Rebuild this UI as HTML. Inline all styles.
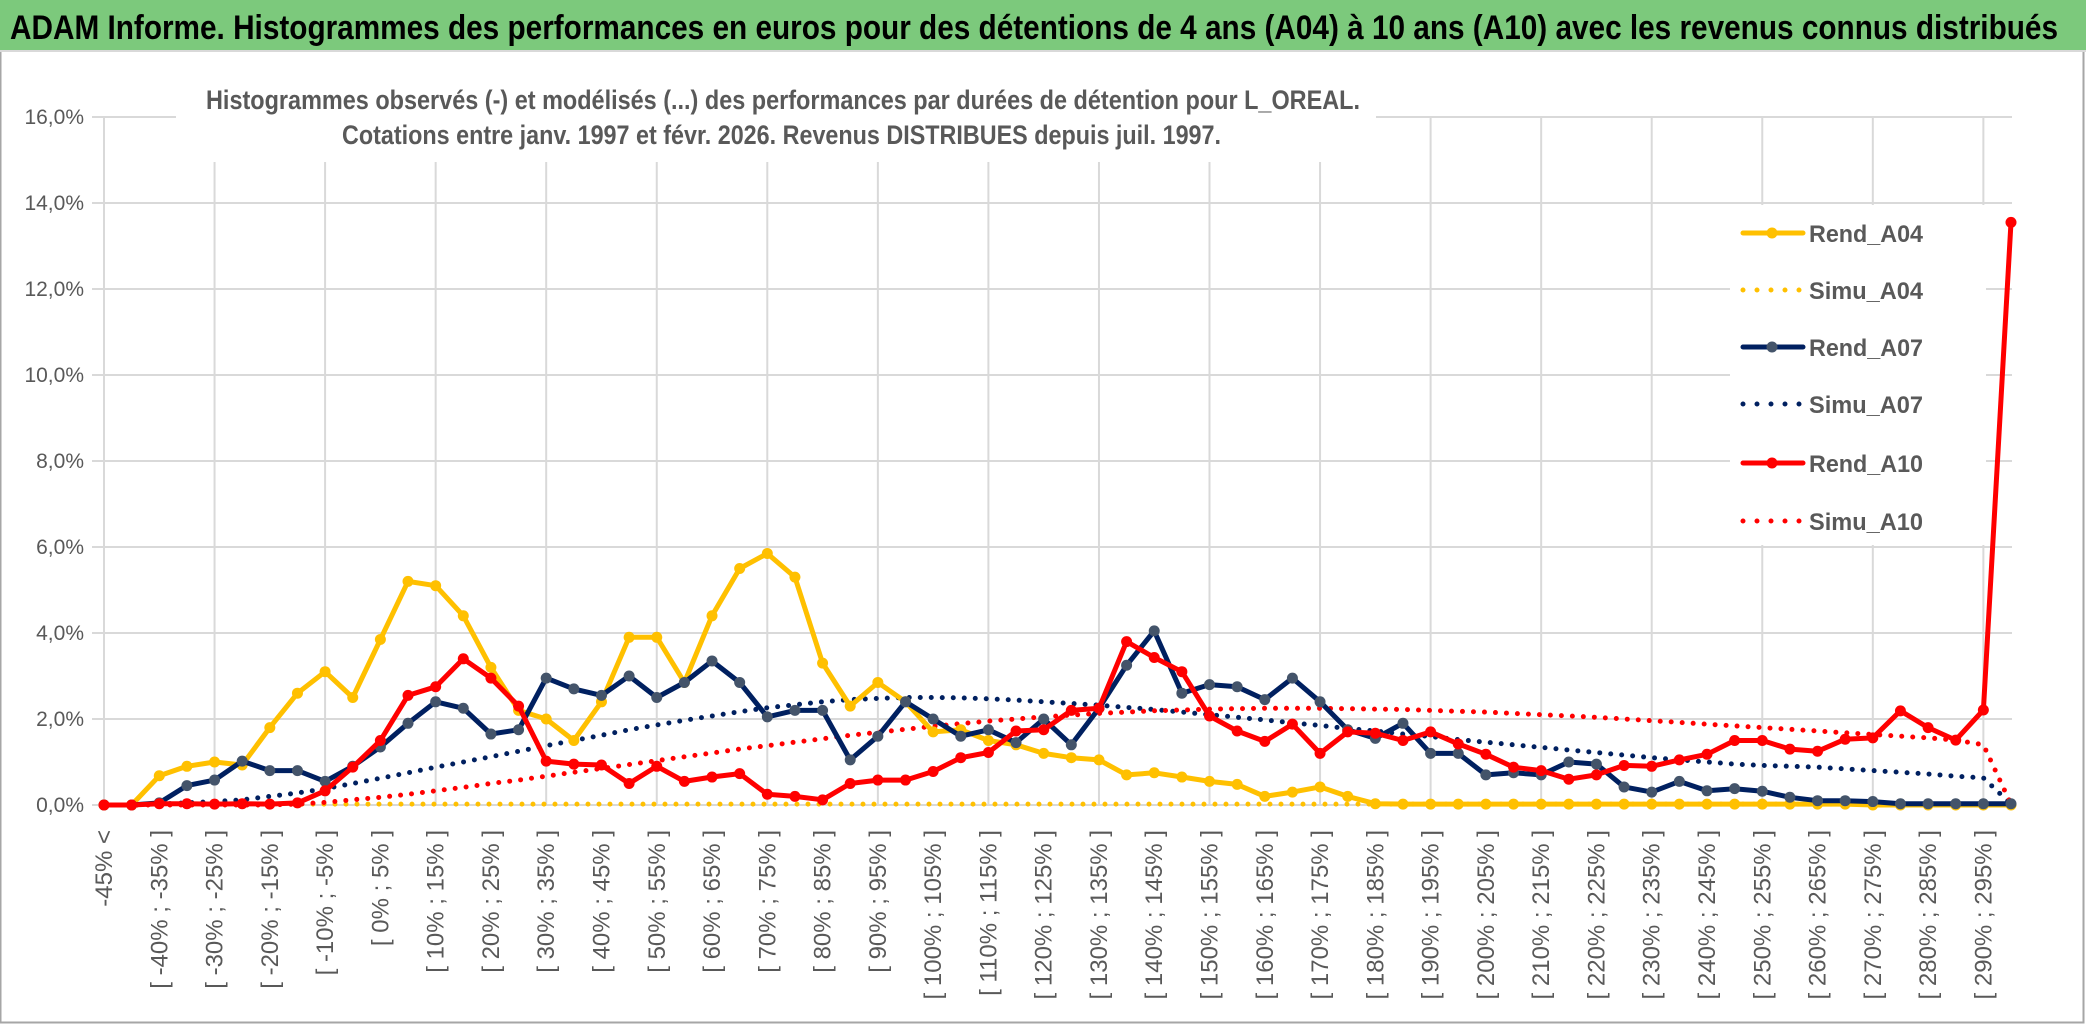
<!DOCTYPE html>
<html><head><meta charset="utf-8"><style>
html,body{margin:0;padding:0;background:#fff;}
svg{display:block;font-family:"Liberation Sans",sans-serif;}
</style></head><body>
<svg id="chart" width="2086" height="1031" viewBox="0 0 2086 1031">
<rect x="0" y="0" width="2086" height="1031" fill="#fff"/>
<rect x="0.5" y="0.5" width="2083" height="1022" fill="none" stroke="#a6a6a6" stroke-width="2"/>
<rect x="0" y="0" width="2086" height="50" fill="#7cc97c"/>
<line x1="0" y1="51" x2="2086" y2="51" stroke="#d9d9d9" stroke-width="2"/>
<text x="10" y="39" font-size="34" font-weight="bold" fill="#000" textLength="2048" lengthAdjust="spacingAndGlyphs">ADAM Informe. Histogrammes des performances en euros pour des détentions de 4 ans (A04) à 10 ans (A10) avec les revenus connus distribués</text>
<g id="grid"></g>
<g id="ylabels"></g>
<g id="xlabels"></g>
<g id="series"></g>
<rect x="176" y="76" width="1200" height="86" fill="#fff"/>
<text x="206" y="109" font-size="27" font-weight="bold" fill="#595959" textLength="1154" lengthAdjust="spacingAndGlyphs">Histogrammes observés (-) et modélisés (...) des performances par durées de détention pour L_OREAL.</text>
<text x="342" y="144" font-size="27" font-weight="bold" fill="#595959" textLength="879" lengthAdjust="spacingAndGlyphs">Cotations entre janv. 1997 et févr. 2026. Revenus DISTRIBUES depuis juil. 1997.</text>
<g id="legend"></g>
</svg>
<script>
const categories = (function(){const c=["-45% <"];for(let k=1;k<70;k++){c.push("[ "+(-50+5*k)+"% ; "+(-45+5*k)+"% ]");}return c;})();
const yTicks = [0,2,4,6,8,10,12,14,16];
const yTickLabels = ["0,0%","2,0%","4,0%","6,0%","8,0%","10,0%","12,0%","14,0%","16,0%"];
const rendA04 = [0,0,0.68,0.9,1.0,0.93,1.8,2.6,3.1,2.5,3.85,5.2,5.1,4.4,3.2,2.2,2.0,1.5,2.4,3.9,3.9,2.85,4.4,5.5,5.85,5.3,3.3,2.3,2.85,2.4,1.7,1.75,1.5,1.4,1.2,1.1,1.05,0.7,0.75,0.65,0.55,0.48,0.2,0.3,0.42,0.2,0.03,0.02,0.02,0.02,0.02,0.02,0.02,0.02,0.02,0.02,0.02,0.02,0.02,0.02,0.02,0.02,0.02,0.02,0,0,0,0,0,0];
const simuA04 = [0,0,0.02,0.02,0.02,0.02,0.02,0.02,0.02,0.02,0.02,0.02,0.02,0.02,0.02,0.02,0.02,0.02,0.02,0.02,0.02,0.02,0.02,0.02,0.02,0.02,0.02,0.02,0.02,0.02,0.02,0.02,0.02,0.02,0.02,0.02,0.02,0.02,0.02,0.02,0.02,0.02,0.02,0.02,0.02,0.02,0.02,0.02,0.02,0.02,0.02,0.02,0.02,0.02,0.02,0.02,0.02,0.02,0.02,0.02,0.02,0.02,0.02,0.02,0.02,0.02,0.02,0.02,0.02,0];
const rendA07 = [0,0,0.05,0.45,0.58,1.02,0.8,0.8,0.55,0.9,1.35,1.9,2.4,2.25,1.65,1.75,2.95,2.7,2.55,3.0,2.5,2.85,3.35,2.85,2.05,2.2,2.2,1.05,1.6,2.4,2.0,1.6,1.75,1.45,2.0,1.4,2.25,3.25,4.05,2.6,2.8,2.75,2.45,2.95,2.4,1.75,1.55,1.9,1.2,1.2,0.7,0.75,0.7,1.0,0.95,0.42,0.3,0.55,0.33,0.38,0.32,0.18,0.1,0.1,0.08,0.03,0.03,0.03,0.03,0.03];
const simuA07 = [0,0,0.02,0.05,0.08,0.12,0.2,0.28,0.38,0.5,0.62,0.75,0.88,1.0,1.12,1.25,1.38,1.5,1.62,1.75,1.86,1.97,2.07,2.17,2.26,2.33,2.4,2.45,2.48,2.5,2.5,2.49,2.47,2.44,2.4,2.36,2.32,2.27,2.22,2.16,2.1,2.04,1.98,1.91,1.85,1.78,1.72,1.65,1.59,1.52,1.46,1.4,1.34,1.28,1.22,1.16,1.1,1.05,1.0,0.95,0.92,0.9,0.88,0.84,0.8,0.76,0.72,0.67,0.63,0.02];
const rendA10 = [0,0,0.03,0.03,0.02,0.03,0.02,0.05,0.33,0.88,1.5,2.55,2.75,3.4,2.95,2.3,1.02,0.95,0.93,0.5,0.9,0.55,0.65,0.73,0.25,0.2,0.12,0.5,0.58,0.58,0.78,1.1,1.22,1.72,1.75,2.2,2.25,3.8,3.43,3.1,2.07,1.72,1.48,1.88,1.2,1.7,1.67,1.5,1.7,1.42,1.18,0.88,0.8,0.6,0.7,0.92,0.9,1.05,1.18,1.5,1.5,1.3,1.25,1.53,1.56,2.19,1.8,1.51,2.21,13.55];
const simuA10 = [0,0,0,0,0,0,0,0.02,0.06,0.12,0.18,0.25,0.33,0.41,0.5,0.58,0.67,0.76,0.85,0.94,1.03,1.12,1.21,1.3,1.38,1.46,1.54,1.62,1.69,1.76,1.83,1.89,1.95,2.0,2.05,2.09,2.13,2.16,2.19,2.21,2.23,2.24,2.25,2.25,2.25,2.24,2.23,2.22,2.2,2.18,2.16,2.13,2.1,2.07,2.04,2.0,1.96,1.92,1.88,1.84,1.8,1.76,1.72,1.68,1.64,1.6,1.56,1.51,1.4,0.02];

const NS="http://www.w3.org/2000/svg";
const X0=104, X1=2011, Y0=805, Y16=117;
const n=categories.length;
function xPos(i){return X0+(X1-X0)*i/(n-1);}
function yPos(v){return Y0-(Y0-Y16)*v/16;}
function mk(tag,attrs,parent){const e=document.createElementNS(NS,tag);for(const k in attrs)e.setAttribute(k,attrs[k]);parent.appendChild(e);return e;}

const grid=document.getElementById('grid');
yTicks.forEach((t,i)=>{
  const l=mk('line',{x1:92,x2:2012,y1:yPos(t),y2:yPos(t),stroke:'#d9d9d9','stroke-width':2},grid);
  
  
});
for(let i=0;i<n;i+=4){
  const l=mk('line',{x1:xPos(i),x2:xPos(i),y1:Y16,y2:Y0,stroke:'#d9d9d9','stroke-width':2},grid);
  
  
}
const yl=document.getElementById('ylabels');
yTicks.forEach((t,i)=>{
  const tx=mk('text',{x:84,y:yPos(t)+7,'text-anchor':'end','font-size':21,fill:'#595959'},yl);
  tx.textContent=yTickLabels[i];
  
  
});
const xl=document.getElementById('xlabels');
for(let i=0;i<n;i+=2){
  const x=xPos(i)+8;
  const tx=mk('text',{x:x,y:830,'text-anchor':'end','font-size':24,fill:'#595959',transform:'rotate(-90 '+x+' 830)'},xl);
  tx.textContent=categories[i];
  
  
}

const sg=document.getElementById('series');
function pts(arr){return arr.map((v,i)=>xPos(i).toFixed(1)+','+yPos(v).toFixed(1)).join(' ');}
function dotted(arr,color,name){
  const p=mk('polyline',{points:pts(arr),fill:'none',stroke:color,'stroke-width':5,'stroke-dasharray':'0 11','stroke-linecap':'round'},sg);
  
  
}
function solid(arr,color,mcolor,name){
  const p=mk('polyline',{points:pts(arr),fill:'none',stroke:color,'stroke-width':5,'stroke-linejoin':'round'},sg);
  
  
  arr.forEach((v,i)=>{
    const c=mk('circle',{cx:xPos(i),cy:yPos(v),r:5.5,fill:mcolor},sg);
    
    
  });
}
dotted(simuA04,'#ffc000','simu-a04-line');
dotted(simuA07,'#002060','simu-a07-line');
dotted(simuA10,'#ff0000','simu-a10-line');
solid(rendA04,'#ffc000','#ffc000','rend-a04-line');
solid(rendA07,'#002060','#44546a','rend-a07-line');
solid(rendA10,'#ff0000','#ff0000','rend-a10-line');

const lg=document.getElementById('legend');
const bg=mk('rect',{x:1730,y:205,width:256,height:340,fill:'#fff'},lg);


const legendNames=['Rend_A04','Simu_A04','Rend_A07','Simu_A07','Rend_A10','Simu_A10'];
const legendColors=['#ffc000','#ffc000','#002060','#002060','#ff0000','#ff0000'];
const legendMarker=['#ffc000',null,'#44546a',null,'#ff0000',null];
const legendY=[233,290,347,404,463,521];
legendNames.forEach((nm,i)=>{
  const y=legendY[i];
  if(legendMarker[i]){
    mk('line',{x1:1743,x2:1803,y1:y,y2:y,stroke:legendColors[i],'stroke-width':5,'stroke-linecap':'round'},lg);
    mk('circle',{cx:1772,cy:y,r:5.5,fill:legendMarker[i]},lg);
  } else {
    mk('line',{x1:1743,x2:1803,y1:y,y2:y,stroke:legendColors[i],'stroke-width':5,'stroke-dasharray':'0 14','stroke-linecap':'round'},lg);
  }
  const t=mk('text',{x:1809,y:y+9,'font-size':24,'font-weight':'bold',fill:'#595959',textLength:114,lengthAdjust:'spacingAndGlyphs'},lg);
  t.textContent=nm;
  
  
});
</script>
</body></html>
